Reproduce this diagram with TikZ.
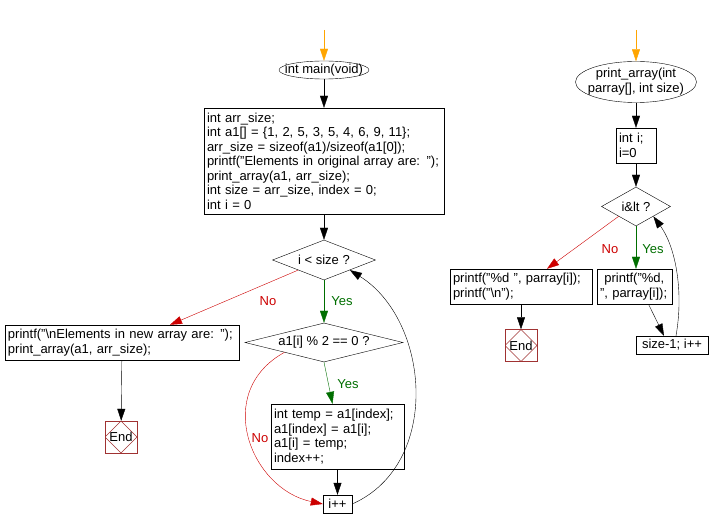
\documentclass[tikz,border=0pt]{standalone}
\usepackage{fontspec}
\setmainfont{Liberation Sans}
\usetikzlibrary{arrows.meta, shapes.geometric, positioning, calc}
\definecolor{startcol}{RGB}{255,165,0}
\definecolor{nocol}{RGB}{204,0,0}
\definecolor{yescol}{RGB}{0,110,0}
\definecolor{endcol}{RGB}{160,50,50}
\tikzset{
  every node/.append style={font=\fontsize{13}{14.5}\selectfont},
  flowarrow/.style={-{Triangle[length=12pt,width=8pt]}},
  startev/.style={ellipse, draw, inner sep=0pt},
  codebox/.style={rectangle, draw, align=left, inner xsep=3pt, inner ysep=2pt},
  smallbox/.style={rectangle, draw, align=center, inner sep=1pt, minimum height=18pt},
  decision/.style={diamond, draw, aspect=2.5, inner sep=0pt},
  endbox/.style={rectangle, draw=endcol, minimum size=32pt, inner sep=0pt,
    path picture={\draw[endcol] (path picture bounding box.north)
      -- (path picture bounding box.east) -- (path picture bounding box.south)
      -- (path picture bounding box.west) -- cycle;}},
  nolbl/.style={text=nocol},
  yeslbl/.style={text=yescol}
}

\begin{document}
\begin{tikzpicture}[x=1pt,y=-1pt]
\useasboundingbox (0,0) rectangle (710,529);

% ── main() ───────────────────────────────────────────────────────────────────
\coordinate (mstart) at (324,30);
\node[startev, minimum width=90pt, minimum height=18pt] (main) at (324,70)
      {\makebox[40pt]{int main(void)}};
\node[codebox, text width=234pt, minimum height=106pt] (init) at (324,161)
      {int arr\_size;\\
       int a1[] = \{1, 2, 5, 3, 5, 4, 6, 9, 11\};\\
       arr\_size = sizeof(a1)/sizeof(a1[0]);\\
       printf("Elements in original array are: ");\\
       print\_array(a1, arr\_size);\\
       int size = arr\_size, index = 0;\\
       int i = 0};
\node[decision, minimum width=103pt, minimum height=40pt] (cond) at (324,260)
      {i < size ?};
\node[decision, aspect=4, minimum width=158pt, minimum height=39pt] (even) at (324,342.5)
      {a1[i] \% 2 == 0 ?};
\node[codebox, text width=127pt, minimum height=65pt] (swap) at (337.5,436.5)
      {int temp = a1[index];\\
       a1[index] = a1[i];\\
       a1[i] = temp;\\
       index++;};
\node[smallbox, minimum width=29pt] (inc) at (337.5,504) {i++};
\node[codebox, text width=228pt, minimum height=35pt] (printbox) at (122,342.5)
      {printf("\textbackslash nElements in new array are: ");\\
       print\_array(a1, arr\_size);};
\node[endbox] (end1) at (121,437) {End};

\draw[flowarrow, startcol] (mstart) -- (main);
\draw[flowarrow] (main) -- (init);
\draw[flowarrow] (init) -- (cond);
\draw[flowarrow, yescol] (cond) -- (even);
\node[yeslbl] (yes1) at (342,301) {Yes};
\draw[flowarrow, nocol] (cond.south west) -- ([xshift=48pt]printbox.north);
\node[nolbl] (no1) at (268,301) {No};
\draw[flowarrow] (printbox) -- (end1);
\draw[flowarrow, yescol] (even.south) -- ([xshift=-5pt]swap.north);
\node[yeslbl] (yes2) at (348,384) {Yes};
\draw[flowarrow, nocol] (even.south west)
      .. controls +(-72,40) and +(-72,-15) .. (inc.west);
\node[nolbl] (no2) at (260,438) {No};
\draw[flowarrow] (swap) -- (inc);
\draw[flowarrow] (inc.east)
      .. controls +(90,-40) and +(80,50) .. (cond.south east);

% ── print_array() ────────────────────────────────────────────────────────────
\coordinate (pstart) at (636,30);
\node[startev, minimum width=121pt, minimum height=39pt] (parr) at (636,82)
      {\makebox[60pt]{\begin{tabular}{@{}c@{}}print\_array(int\\parray[], int size)\end{tabular}}};
\node[codebox, text width=34pt, minimum height=35pt] (initr) at (636,145.5)
      {int i;\\i=0};
\node[decision, aspect=2, minimum width=69pt, minimum height=39pt] (condr) at (636,206.5)
      {i\&lt ?};
\node[codebox, text width=136pt, minimum height=35pt] (lbox) at (521,286.5)
      {printf("\%d ", parray[i]);\\
       printf("\textbackslash n");};
\node[codebox, text width=69pt, minimum height=35pt] (rbox) at (634.5,286.5)
      {\ printf("\%d,\\
       ", parray[i]);};
\node[smallbox, minimum width=72pt] (sbox) at (672,345) {size-1; i++};
\node[endbox] (end2) at (521,345.5) {End};

\draw[flowarrow, startcol] (pstart) -- (parr);
\draw[flowarrow] (parr) -- (initr);
\draw[flowarrow] (initr) -- (condr);
\draw[flowarrow, yescol] (condr.south) -- (condr.south |- rbox.north);
\node[yeslbl] (yes3) at (653,249) {Yes};
\draw[flowarrow, nocol] (condr.south west) -- ([xshift=26pt]lbox.north);
\node[nolbl] (no3) at (610,249) {No};
\draw[flowarrow] (lbox) -- (end2);
\draw[flowarrow] ([xshift=14pt]rbox.south) -- ([xshift=-8pt]sbox.north);
\draw[flowarrow] ([xshift=4pt]sbox.north)
      .. controls +(8,-45) and +(22,30) .. (condr.south east);

\end{tikzpicture}
\end{document}
